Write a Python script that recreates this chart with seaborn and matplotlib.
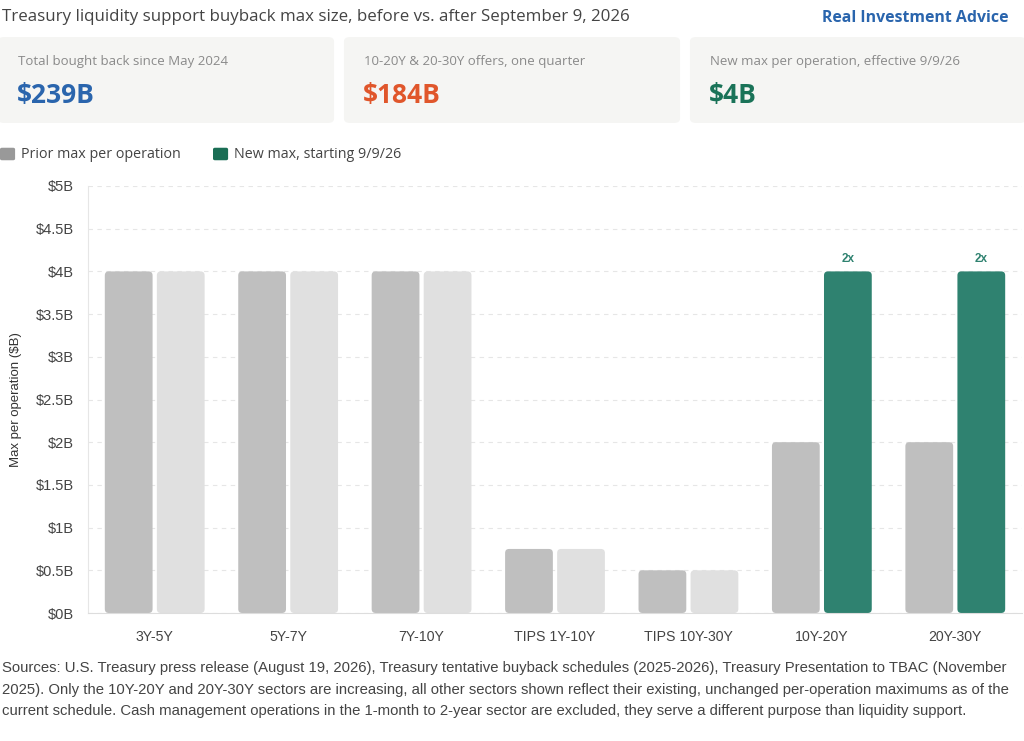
import matplotlib
matplotlib.use("Agg")
import pandas as pd
import matplotlib.pyplot as plt
import seaborn as sns
from matplotlib.patches import FancyBboxPatch

categories = ["3Y-5Y", "5Y-7Y", "7Y-10Y", "TIPS 1Y-10Y", "TIPS 10Y-30Y", "10Y-20Y", "20Y-30Y"]
prior_max = [4, 4, 4, 0.75, 0.5, 2, 2]
new_max = [4, 4, 4, 0.75, 0.5, 4, 4]
changed = [False, False, False, False, False, True, True]
yticks = [0, 0.5, 1, 1.5, 2, 2.5, 3, 3.5, 4, 4.5, 5]
ytick_labels = ["$0B", "$0.5B", "$1B", "$1.5B", "$2B", "$2.5B", "$3B", "$3.5B", "$4B", "$4.5B", "$5B"]

card_labels = ["Total bought back since May 2024", "10-20Y & 20-30Y offers, one quarter",
               "New max per operation, effective 9/9/26"]
card_values = ["$239B", "$184B", "$4B"]
card_colors = ["#2a65ad", "#e0562b", "#1a7358"]

GRAY = "#bfbfbf"
LIGHT = "#e0e0e0"
GREEN = "#2f8270"
ARIAL = ["Liberation Sans", "DejaVu Sans"]

sns.set_style("white")
plt.rcParams["font.family"] = ["Open Sans", "DejaVu Sans"]

df = pd.DataFrame({
    "sector": categories * 2,
    "value": prior_max + new_max,
    "series": ["Prior"] * len(categories) + ["New"] * len(categories),
})

fig = plt.figure(figsize=(10.24, 7.41), dpi=100)
ax = fig.add_axes([88 / 1024, 1 - 613 / 741, 934 / 1024, 427 / 741])

sns.barplot(data=df, x="sector", y="value", hue="series", order=categories,
            hue_order=["Prior", "New"], palette={"Prior": GRAY, "New": GREEN},
            width=0.78, legend=False, ax=ax)

# recolor + round the bars
n = len(categories)
patches = list(ax.patches)
for i, p in enumerate(patches):
    idx = i % n
    if i >= n:
        color = GREEN if changed[idx] else LIGHT
    else:
        color = GRAY
    x, y = p.get_x(), p.get_y()
    w, h = p.get_width(), p.get_height()
    gap = 0.016
    p.remove()
    fb = FancyBboxPatch((x + gap, y), w - 2 * gap, h,
                        boxstyle="round,pad=0,rounding_size=0.03",
                        mutation_aspect=5 / 427 * 934 / 7,
                        facecolor=color, edgecolor="none", zorder=2)
    ax.add_patch(fb)
    if i >= n and changed[idx]:
        ax.text(x + w / 2, h + 0.08, "2x", ha="center", va="bottom",
                fontsize=8.5, fontweight="bold", color=GREEN, family=ARIAL)

ax.set_ylim(0, 5)
ax.set_xlim(-0.5, n - 0.5)
ax.set_yticks(yticks)
ax.set_yticklabels(ytick_labels, family=ARIAL, fontsize=10.5, color="#444444")
ax.set_xticks(range(n))
ax.set_xticklabels(categories, family=ARIAL, fontsize=10.2, color="#444444")
ax.tick_params(axis="y", length=0, pad=10)
ax.tick_params(axis="x", length=0, pad=12)
ax.grid(axis="y", linestyle=(0, (4, 4)), color="#e6e6e6", linewidth=0.8, zorder=0)
ax.set_axisbelow(True)
ax.set_xlabel("")
ax.set_ylabel("Max per operation ($B)", family=ARIAL, fontsize=9.5, color="#333333", labelpad=10)
for side in ["top", "right"]:
    ax.spines[side].set_visible(False)
ax.spines["left"].set_color("#e6e6e6")
ax.spines["bottom"].set_color("#dddddd")

# title
fig.text(2 / 1024, 1 - 17 / 741, "Treasury liquidity support buyback max size, before vs. after September 9, 2026",
         ha="left", va="center", fontsize=12.2, color="#444444")
fig.text(1008 / 1024, 1 - 18 / 741, "Real Investment Advice", ha="right", va="center",
         fontsize=11.4, fontweight="bold", color="#2a65ad")

# cards
card_x = [0, 346, 692]
for cx, lab, val, col in zip(card_x, card_labels, card_values, card_colors):
    card = FancyBboxPatch((cx / 1024 + 0.004, 1 - 123 / 741 + 0.006), 332 / 1024 - 0.008, 86 / 741 - 0.012,
                          boxstyle="round,pad=0.006", transform=fig.transFigure,
                          facecolor="#f5f5f3", edgecolor="none")
    fig.add_artist(card)
    fig.text((cx + 18) / 1024, 1 - 61 / 741, lab, ha="left", va="center", fontsize=9.5, color="#8a8a8a")
    fig.text((cx + 17) / 1024, 1 - 96 / 741, val, ha="left", va="center", fontsize=19,
             fontweight="bold", color=col)

# legend
for lx, col, lab in [(0, "#999999", "Prior max per operation"), (213, "#1a6e55", "New max, starting 9/9/26")]:
    sq = FancyBboxPatch((lx / 1024 + 0.002, 1 - 161 / 741 + 0.003), 11 / 1024, 14 / 741 - 0.006,
                        boxstyle="round,pad=0.002", transform=fig.transFigure,
                        facecolor=col, edgecolor="none")
    fig.add_artist(sq)
    fig.text((lx + 21) / 1024, 1 - 154 / 741, lab, ha="left", va="center", fontsize=10.3, color="#444444")

foot = ("Sources: U.S. Treasury press release (August 19, 2026), Treasury tentative buyback schedules (2025-2026), Treasury Presentation to TBAC (November\n"
        "2025). Only the 10Y-20Y and 20Y-30Y sectors are increasing, all other sectors shown reflect their existing, unchanged per-operation maximums as of the\n"
        "current schedule. Cash management operations in the 1-month to 2-year sector are excluded, they serve a different purpose than liquidity support.")
fig.text(2 / 1024, 1 - 661 / 741, foot, ha="left", va="top", fontsize=10.7, color="#444444",
         linespacing=1.7, family=ARIAL)

fig.savefig("out.png", dpi=100)
